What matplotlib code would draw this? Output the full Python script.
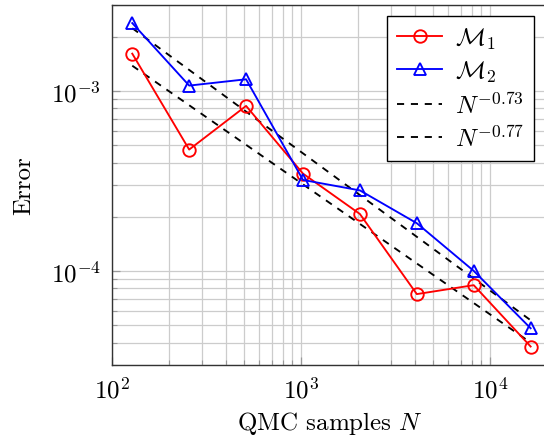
import numpy as np
import matplotlib
matplotlib.use("Agg")
import matplotlib.pyplot as plt
from matplotlib.ticker import LogLocator, NullFormatter

plt.rcParams["font.family"] = "serif"
plt.rcParams["font.serif"] = ["cmr10", "DejaVu Serif"]
plt.rcParams["mathtext.fontset"] = "cm"
plt.rcParams["axes.formatter.use_mathtext"] = True

# QMC sample sizes and errors
samples = [128, 256, 512, 1024, 2048, 4096, 8192, 16384]
err_m1 = [1.61e-3, 4.72e-4, 8.25e-4, 3.47e-4, 2.07e-4, 7.43e-5, 8.33e-5, 3.8e-5]
err_m2 = [2.38e-3, 1.07e-3, 1.16e-3, 3.2e-4, 2.8e-4, 1.84e-4, 1.0e-4, 4.8e-5]

# reference rates: value at N=128 and exponent
rate_a, start_a = 0.73, 1.38e-3
rate_b, start_b = 0.77, 2.23e-3

N = np.array(samples, dtype=float)
ref_a = start_a * (N / N[0]) ** (-rate_a)
ref_b = start_b * (N / N[0]) ** (-rate_b)

fs = 18
lw = 1.35
fig = plt.figure(figsize=(5.44, 4.39), dpi=100)
ax = fig.add_axes([112 / 544, 73 / 439, 435 / 544, 360 / 439])

ax.plot(N, err_m1, color="red", lw=lw, marker="o", ms=9, mfc="none", mec="red", mew=lw,
        label=r"$\mathcal{M}_1$", zorder=4)
ax.plot(N, err_m2, color="blue", lw=lw, marker="^", ms=8, mfc="none", mec="blue", mew=lw,
        label=r"$\mathcal{M}_2$", zorder=4)
ax.plot(N, ref_a, color="black", lw=lw, dashes=(3.8, 3.6), label=r"$N^{-0.73}$", zorder=3)
ax.plot(N, ref_b, color="black", lw=lw, dashes=(3.8, 3.6), label=r"$N^{-0.77}$", zorder=3)

ax.set_xscale("log")
ax.set_yscale("log")
ax.set_xlim(100, 2e4)
ax.set_ylim(3e-5, 3e-3)

ax.xaxis.set_major_locator(LogLocator(base=10))
ax.xaxis.set_minor_locator(LogLocator(base=10, subs=np.arange(2, 10)))
ax.xaxis.set_minor_formatter(NullFormatter())
ax.yaxis.set_major_locator(LogLocator(base=10))
ax.yaxis.set_minor_locator(LogLocator(base=10, subs=np.arange(2, 10)))
ax.yaxis.set_minor_formatter(NullFormatter())

ax.grid(True, which="both", color="#cccccc", lw=0.9, zorder=0)
ax.set_axisbelow(True)
ax.tick_params(which="both", direction="in", labelsize=fs, color="#999999")
ax.tick_params(which="major", length=6, width=0.9)
ax.tick_params(which="minor", length=3.5, width=0.8)
ax.tick_params(axis="x", pad=8)
ax.tick_params(axis="y", pad=8)
for s in ax.spines.values():
    s.set_color("#333333")
    s.set_linewidth(1.0)

ax.set_xlabel(r"QMC samples $N$", fontsize=fs, labelpad=5)
ax.set_ylabel("Error", fontsize=fs, labelpad=11)

leg = ax.legend(loc="upper right", bbox_to_anchor=(534 / 544, 1 - 17 / 439),
                bbox_transform=fig.transFigure, borderaxespad=0, fontsize=fs,
                fancybox=False, framealpha=1, edgecolor="black", handlelength=1.8,
                handletextpad=0.5, borderpad=0.4, labelspacing=0.3)
leg.get_frame().set_linewidth(1.0)

fig.savefig("out.png", dpi=100)
